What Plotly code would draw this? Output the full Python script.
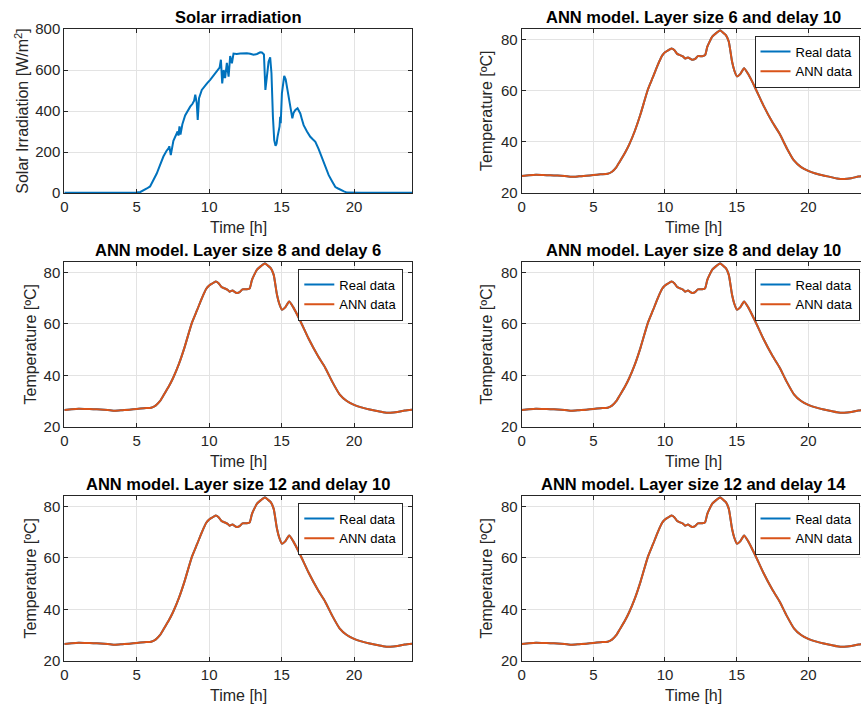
import plotly.graph_objects as go

# ---------------- data ----------------
solar_t = [0, 1, 2, 3, 4, 5.0, 5.25, 5.46, 5.7, 5.92, 6.15, 6.38, 6.6, 6.84, 7.05, 7.19, 7.25, 7.35, 7.53,
           7.7, 7.82, 7.88, 7.95, 8.02, 8.15, 8.34, 8.5, 8.69, 8.85, 8.96, 9.04, 9.14, 9.21, 9.3, 9.49,
           9.65, 9.85, 10.07, 10.3, 10.53, 10.72, 10.81, 10.9, 11.0, 11.1, 11.22, 11.34, 11.45, 11.57,
           11.68, 11.9, 12.14, 12.4, 12.6, 12.83, 13.06, 13.3, 13.52, 13.64, 13.78, 13.88, 13.98, 14.1,
           14.21, 14.3, 14.4, 14.49, 14.58, 14.65, 14.72, 14.8, 14.86, 14.9, 14.94, 15.02, 15.1, 15.18,
           15.28, 15.37, 15.46, 15.55, 15.65, 15.74, 15.83, 15.95, 16.1, 16.2, 16.29, 16.4, 16.52, 16.75,
           16.98, 17.15, 17.33, 17.55, 17.79, 18.0, 18.25, 18.5, 18.71, 18.9, 19.05, 19.3, 19.52, 19.8,
           20.5, 21, 22, 23, 24]
solar_v = [1, 1, 1, 1, 1, 2, 5, 12, 22, 32, 60, 95, 135, 178, 205, 217, 228, 185, 255,
           285, 300, 280, 325, 285, 335, 378, 400, 421, 435, 450, 480, 440, 356, 462, 503,
           519, 535, 552, 572, 592, 612, 650, 535, 600, 560, 635, 568, 668, 633,
           680, 678, 680, 683, 682, 679, 674, 678, 686, 685, 676, 503, 584, 640,
           662, 584, 372, 258, 230, 240, 275, 300, 325, 372, 340, 486, 540, 571,
           555, 519, 478, 437, 400, 364, 392, 405, 413, 400, 388, 360, 331, 300,
           274, 262, 250, 215, 168, 128, 87, 55, 29, 22, 16, 8, 2, 1,
           1, 1, 1, 1, 1]

temp_t = [0, 0.5, 1, 1.5, 2, 2.5, 3, 3.5, 4, 4.5, 5, 5.5, 6, 6.3, 6.6, 6.85, 7.2, 7.5, 7.9, 8.3,
          8.8, 9.15, 9.5, 9.8, 10.0, 10.2, 10.45, 10.65, 10.85, 11.05, 11.25, 11.4, 11.6, 11.9,
          12.1, 12.3, 12.6, 12.8, 12.95, 13.1, 13.3, 13.55, 13.85, 14.05, 14.25, 14.45, 14.68,
          14.85, 15.02, 15.25, 15.52, 15.8, 16.3, 16.85, 17.5, 18, 18.5, 19, 19.5, 20, 20.5, 21,
          21.5, 22, 22.5, 23, 23.5, 24]
real_temp = [26.6, 26.9, 27.1, 27.0, 26.9, 26.8, 26.6, 26.3, 26.5, 26.7, 27.0, 27.3, 27.5, 28.3, 30.0,
             32.3, 35.6, 38.9, 44.3, 50.9, 60.3, 65.1, 70.0, 73.6, 74.9, 75.6, 76.4, 75.8, 74.3,
             73.8, 73.3, 72.5, 72.9, 72.0, 72.3, 73.4, 73.4, 73.8, 77.0, 78.9, 81.0, 82.3, 83.5,
             82.6, 81.6, 79.1, 71.3, 67.6, 65.5, 66.4, 68.7, 66.5, 61.0, 54.4, 47.6, 43.1, 37.5,
             32.7, 30.1, 28.6, 27.6, 26.9, 26.3, 25.7, 25.5, 25.8, 26.4, 26.7]
ann_temp = [26.6, 26.9, 27.1, 27.0, 26.9, 26.8, 26.6, 26.3, 26.5, 26.7, 27.0, 27.3, 27.5, 28.3, 30.0,
            32.3, 35.6, 38.9, 44.3, 50.9, 60.3, 65.1, 70.0, 73.6, 74.9, 75.6, 76.4, 75.8, 74.3,
            73.8, 73.3, 72.5, 72.9, 72.0, 72.3, 73.4, 73.4, 73.8, 77.0, 78.9, 81.0, 82.3, 83.4,
            82.6, 81.6, 79.1, 71.3, 67.6, 65.5, 66.4, 68.7, 66.5, 61.0, 54.4, 47.6, 43.1, 37.5,
            32.7, 30.1, 28.6, 27.6, 26.9, 26.3, 25.7, 25.5, 25.8, 26.4, 26.7]

titles = ["Solar irradiation",
          "ANN model. Layer size 6 and delay 10",
          "ANN model. Layer size 8 and delay 6",
          "ANN model. Layer size 8 and delay 10",
          "ANN model. Layer size 12 and delay 10",
          "ANN model. Layer size 12 and delay 14"]
x_ticks = [0, 5, 10, 15, 20]
solar_ticks = [0, 200, 400, 600, 800]
temp_ticks = [20, 40, 60, 80]
legend_names = ["Real data", "ANN data"]

# ---------------- layout geometry (pixels) ----------------
W, H = 861, 708
BLUE = "#0072BD"
ORANGE = "#D95319"
AX = "#262626"
GRID = "#e3e3e3"
FONT = "Liberation Sans, Arial, Helvetica, sans-serif"

col_px = [(64.3, 412.0), (521.7, 861.0)]
row_px = [(29.0, 193.0), (262.0, 427.0), (496.0, 661.0)]
x_right_max = 23.68  # right column is clipped by the figure edge

fig = go.Figure()
annotations = []

for i in range(6):
    r, c = divmod(i, 2)
    n = i + 1
    xa = "x" if n == 1 else f"x{n}"
    ya = "y" if n == 1 else f"y{n}"
    x0, x1 = col_px[c]
    t0, t1 = row_px[r]
    xdom = [x0 / W, x1 / W]
    ydom = [1 - t1 / H, 1 - t0 / H]

    if i == 0:
        fig.add_trace(go.Scatter(x=solar_t, y=solar_v, mode="lines",
                                 line=dict(color=BLUE, width=2),
                                 showlegend=False, xaxis=xa, yaxis=ya))
        yrange, yticks = [0, 800], solar_ticks
        ytitle = "Solar Irradiation [W/m<sup>2</sup>]"
        ytitle_x = 21.7
    else:
        leg = "legend" if i == 1 else f"legend{i}"
        fig.add_trace(go.Scatter(x=temp_t, y=real_temp, mode="lines", name=legend_names[0],
                                 line=dict(color=BLUE, width=2, shape="spline", smoothing=0.5),
                                 legend=leg, xaxis=xa, yaxis=ya))
        fig.add_trace(go.Scatter(x=temp_t, y=ann_temp, mode="lines", name=legend_names[1],
                                 line=dict(color=ORANGE, width=2, shape="spline", smoothing=0.5),
                                 legend=leg, xaxis=xa, yaxis=ya))
        yrange, yticks = [20, 84], temp_ticks
        ytitle = "Temperature [ºC]"
        ytitle_x = 30 if c == 0 else 486
        leg_right = (403.3 if c == 0 else 859.5) / W
        leg_top = 1 - (t0 + 6.5) / H
        fig.update_layout({leg: dict(x=leg_right, y=leg_top, xanchor="right", yanchor="top",
                                     xref="paper", yref="paper",
                                     bgcolor="white", bordercolor=AX, borderwidth=1,
                                     font=dict(family=FONT, size=13, color="black"),
                                     tracegroupgap=0, itemwidth=30)})

    xrange = [0, 24] if c == 0 else [0, x_right_max]
    xkey = "xaxis" if n == 1 else f"xaxis{n}"
    ykey = "yaxis" if n == 1 else f"yaxis{n}"
    fig.update_layout({
        xkey: dict(domain=xdom, anchor=ya, range=xrange, tickvals=x_ticks, automargin=False,
                   showline=True, linecolor=AX, linewidth=1, mirror="ticks",
                   ticks="inside", ticklen=4, tickcolor=AX,
                   showgrid=True, gridcolor=GRID, gridwidth=1, zeroline=False,
                   tickfont=dict(family=FONT, size=15, color=AX), fixedrange=True),
        ykey: dict(domain=ydom, anchor=xa, range=yrange, tickvals=yticks, automargin=False,
                   showline=True, linecolor=AX, linewidth=1,
                   mirror="ticks" if c == 0 else False,
                   ticks="inside", ticklen=4, tickcolor=AX,
                   showgrid=True, gridcolor=GRID, gridwidth=1, zeroline=False,
                   tickfont=dict(family=FONT, size=15, color=AX), fixedrange=True),
    })

    cx = (x0 + (x0 + (x1 - x0) * 24 / xrange[1])) / 2 / W
    annotations.append(dict(text=f"<b>{titles[i]}</b>", x=cx, y=1 - (t0 - 12) / H,
                            xref="paper", yref="paper", xanchor="center", yanchor="middle",
                            showarrow=False, font=dict(family=FONT, size=16.5, color="black")))
    annotations.append(dict(text="Time [h]", x=cx, y=1 - (t1 + 34.5) / H,
                            xref="paper", yref="paper", xanchor="center", yanchor="middle",
                            showarrow=False, font=dict(family=FONT, size=16, color=AX)))
    annotations.append(dict(text=ytitle, x=ytitle_x / W, y=1 - (t0 + t1) / 2 / H,
                            xref="paper", yref="paper", xanchor="center", yanchor="middle",
                            textangle=-90, showarrow=False,
                            font=dict(family=FONT, size=16, color=AX)))

fig.update_layout(width=W, height=H, margin=dict(l=0, r=0, t=0, b=0, autoexpand=False),
                  paper_bgcolor="white", plot_bgcolor="white",
                  annotations=annotations, font=dict(family=FONT))

fig.write_html("out.html", config={"displayModeBar": False},
               post_script="document.body.style.margin='0';document.body.style.overflow='hidden';")
